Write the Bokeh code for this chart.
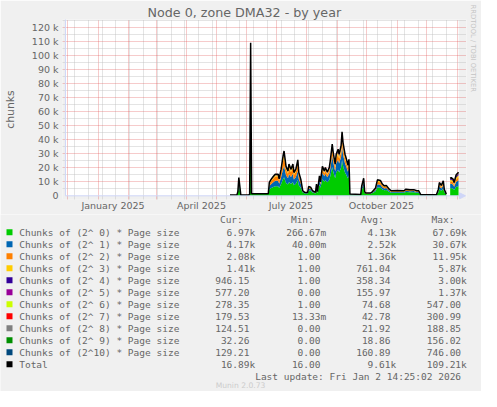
import math
import pandas as pd
from bokeh.plotting import figure
from bokeh.layouts import column
from bokeh.core.properties import value
from bokeh.models import (Range1d, ColumnDataSource, FixedTicker, DatetimeTickFormatter,
                          CustomJSTickFormatter, BoxAnnotation, Arrow, NormalHead, Title)
from bokeh.embed import file_html
from bokeh.resources import INLINE

# ---------------- data (values in thousands of chunks) ----------------
dates = ["2025-05-15","2025-05-22","2025-05-23","2025-05-24","2025-05-26","2025-06-03","2025-06-04","2025-06-05","2025-06-06","2025-06-23",
 "2025-06-24","2025-06-26","2025-06-28","2025-06-30","2025-07-03","2025-07-04","2025-07-06","2025-07-08","2025-07-09","2025-07-11",
 "2025-07-13","2025-07-14","2025-07-16","2025-07-18","2025-07-19","2025-07-21","2025-07-23","2025-07-24","2025-07-26","2025-07-28",
 "2025-07-30","2025-08-02","2025-08-03","2025-08-05","2025-08-07","2025-08-10","2025-08-11","2025-08-12","2025-08-14","2025-08-15",
 "2025-08-17","2025-08-19","2025-08-20","2025-08-22","2025-08-24","2025-08-25","2025-08-27","2025-08-28","2025-08-30","2025-08-31",
 "2025-09-02","2025-09-03","2025-09-05","2025-09-06","2025-09-07","2025-09-09","2025-09-10","2025-09-12","2025-09-13","2025-09-14",
 "2025-09-25","2025-09-26","2025-09-28","2025-09-29","2025-09-30","2025-10-05","2025-10-07","2025-10-09","2025-10-10","2025-10-12",
 "2025-10-15","2025-10-17","2025-10-19","2025-10-21","2025-10-24","2025-10-26","2025-11-01","2025-11-08","2025-11-10","2025-11-14",
 "2025-11-18","2025-11-21","2025-11-23","2025-11-25","2025-12-11","2025-12-13","2025-12-14","2025-12-16","2025-12-18","2025-12-19",
 "2025-12-21","2025-12-23","2025-12-25","2025-12-26","2025-12-28","2025-12-29","2025-12-31","2026-01-02 12:00"]

s0 = [0.40,0.40,2.0,7.0,0.48,0.48,0.8,67.69,1.2,1.2,
      4.6,5.5,6.2,6.8,6.9,5.6,8.4,12.0,13.2,9.2,
      8.0,9.8,8.5,9.9,7.5,8.6,11.2,7.6,5.6,2.4,
      1.7,1.7,3.8,3.6,2.4,1.7,4.8,2.0,8.0,5.7,
      11.8,10.0,11.3,9.6,11.3,14.0,20.5,17.3,12.6,16.6,
      18.6,16.6,20.0,25.6,21.3,16.6,15.4,12.4,14.6,0.95,
      0.72,4.0,7.0,2.0,1.4,1.4,2.0,2.8,3.2,6.0,
      5.8,4.5,3.9,4.1,2.75,2.15,2.25,2.15,2.75,2.5,
      2.55,2.15,2.15,0.64,0.64,2.5,4.6,3.6,5.1,2.5,
      0.95,None,5.4,5.6,5.1,4.1,6.2,6.97]
s1 = [0.05,0.05,0.5,3.0,0.06,0.06,0.1,30.67,0.15,0.15,
      2.4,3.0,3.5,3.9,3.9,3.0,4.8,7.2,8.0,5.4,
      4.5,5.8,4.9,5.9,4.2,4.9,6.6,4.2,3.0,0.6,
      0.35,0.35,1.4,1.3,0.6,0.35,1.8,0.5,3.2,2.2,
      4.6,3.9,4.4,3.7,4.4,5.4,8.0,6.8,5.0,6.5,
      7.3,6.5,7.8,10.0,8.3,6.5,6.0,4.8,5.7,0.12,
      0.09,1.4,2.6,0.5,0.3,0.3,0.5,0.85,1.0,2.2,
      2.1,1.6,1.35,1.4,0.85,0.6,0.65,0.6,0.85,0.8,
      0.8,0.6,0.6,0.08,0.08,1.0,2.2,1.7,2.5,1.0,
      0.12,None,3.0,3.1,2.85,2.3,3.6,4.17]
s2 = [0.025,0.025,0.25,1.6,0.03,0.03,0.05,6.0,0.07,0.07,
      1.6,2.2,2.6,3.0,2.9,2.2,3.6,5.6,6.2,4.0,
      3.3,4.4,3.6,4.3,3.1,3.5,4.9,3.0,2.1,0.35,
      0.2,0.2,0.8,0.75,0.35,0.2,0.95,0.28,1.7,1.2,
      2.4,2.0,2.3,1.9,2.3,2.8,4.2,3.5,2.6,3.4,
      3.8,3.4,4.0,5.1,4.3,3.4,3.1,2.5,2.9,0.06,
      0.045,0.9,1.6,0.28,0.17,0.17,0.28,0.6,0.75,1.8,
      1.75,1.25,1.05,1.1,0.65,0.5,0.53,0.5,0.65,0.6,
      0.62,0.5,0.5,0.04,0.04,0.6,1.2,0.95,1.4,0.6,
      0.06,None,1.6,1.65,1.5,1.2,1.85,2.08]
s3 = [0.01,0.01,0.12,0.7,0.012,0.012,0.02,2.6,0.03,0.03,
      0.55,0.7,0.9,1.05,1.05,0.75,1.3,2.2,2.6,1.5,
      1.3,1.6,1.3,1.6,1.2,1.3,1.9,1.2,0.8,0.15,
      0.08,0.08,0.35,0.32,0.15,0.08,0.42,0.12,0.8,0.55,
      1.1,0.95,1.1,0.9,1.1,1.4,2.0,1.7,1.2,1.6,
      1.8,1.6,1.9,2.4,2.0,1.6,1.45,1.15,1.4,0.03,
      0.02,0.4,0.75,0.12,0.07,0.07,0.12,0.25,0.3,0.8,
      0.78,0.56,0.48,0.5,0.28,0.22,0.23,0.22,0.28,0.26,
      0.27,0.22,0.22,0.018,0.018,0.35,0.8,0.62,0.9,0.35,
      0.03,None,1.1,1.15,1.05,0.82,1.25,1.41]
s4 = [0.005,0.005,0.06,0.35,0.006,0.006,0.01,1.4,0.015,0.015,
      0.2,0.28,0.35,0.4,0.4,0.3,0.6,1.1,1.4,0.6,
      0.48,0.7,0.5,0.65,0.45,0.5,0.8,0.45,0.28,0.06,
      0.04,0.04,0.15,0.14,0.06,0.04,0.2,0.06,0.4,0.25,
      0.65,0.55,0.65,0.55,0.65,0.8,1.2,1.0,0.7,0.9,
      1.0,0.9,1.1,1.4,1.2,0.9,0.85,0.68,0.8,0.015,
      0.01,0.18,0.35,0.06,0.035,0.035,0.06,0.12,0.14,0.35,
      0.33,0.24,0.2,0.2,0.11,0.08,0.09,0.08,0.11,0.1,
      0.1,0.08,0.08,0.009,0.009,0.15,0.45,0.35,0.5,0.15,
      0.015,None,0.7,0.75,0.7,0.55,0.85,0.946]
s5 = [0.003,0.003,0.03,0.15,0.003,0.003,0.005,0.5,0.008,0.008,
      0.08,0.1,0.12,0.13,0.13,0.1,0.18,0.3,0.36,0.18,
      0.13,0.2,0.13,0.17,0.1,0.13,0.2,0.1,0.07,0.02,
      0.015,0.015,0.05,0.05,0.02,0.015,0.07,0.02,0.12,0.06,
      0.25,0.2,0.23,0.2,0.23,0.3,0.5,0.4,0.28,0.38,
      0.42,0.38,0.48,0.6,0.5,0.38,0.34,0.27,0.33,0.008,
      0.005,0.06,0.12,0.02,0.01,0.01,0.02,0.04,0.05,0.13,
      0.12,0.08,0.07,0.07,0.035,0.025,0.03,0.025,0.035,0.03,
      0.03,0.025,0.025,0.004,0.004,0.05,0.15,0.12,0.17,0.05,
      0.008,None,0.4,0.42,0.38,0.3,0.5,0.577]
s6 = [0.002,0.002,0.015,0.07,0.002,0.002,0.003,0.2,0.004,0.004,
      0.03,0.04,0.05,0.05,0.05,0.03,0.06,0.1,0.12,0.06,
      0.05,0.06,0.04,0.05,0.03,0.04,0.06,0.03,0.02,0.01,
      0.005,0.005,0.02,0.015,0.01,0.005,0.03,0.008,0.04,0.02,
      0.1,0.09,0.1,0.08,0.1,0.13,0.22,0.15,0.1,0.15,
      0.18,0.15,0.2,0.28,0.2,0.15,0.13,0.1,0.13,0.004,
      0.003,0.02,0.04,0.008,0.005,0.005,0.008,0.015,0.02,0.05,
      0.05,0.03,0.025,0.025,0.01,0.01,0.01,0.01,0.01,0.01,
      0.01,0.01,0.01,0.002,0.002,0.02,0.05,0.04,0.06,0.02,
      0.004,None,0.15,0.16,0.15,0.12,0.23,0.278]
s7 = [0.001,0.001,0.01,0.04,0.001,0.001,0.002,0.08,0.003,0.003,
      0.02,0.03,0.03,0.03,0.03,0.02,0.03,0.05,0.06,0.03,
      0.02,0.03,0.02,0.02,0.02,0.02,0.02,0.02,0.01,0.005,
      0.004,0.004,0.01,0.01,0.005,0.004,0.01,0.005,0.02,0.01,
      0.04,0.04,0.05,0.04,0.05,0.07,0.12,0.08,0.05,0.08,
      0.09,0.08,0.1,0.15,0.1,0.08,0.06,0.05,0.06,0.003,
      0.002,0.01,0.02,0.005,0.003,0.003,0.005,0.01,0.01,0.03,
      0.03,0.02,0.015,0.015,0.008,0.006,0.006,0.006,0.008,0.007,
      0.007,0.006,0.006,0.001,0.001,0.01,0.02,0.02,0.03,0.01,
      0.003,None,0.08,0.09,0.08,0.06,0.14,0.18]
s8 = [0.001,0.001,0.005,0.02,0.001,0.001,0.001,0.03,0.002,0.002,
      0.01,0.02,0.02,0.02,0.02,0.01,0.02,0.03,0.03,0.02,
      0.01,0.01,0.01,0.01,0.01,0.01,0.01,0.01,0.01,0.003,
      0.002,0.002,0.005,0.005,0.003,0.002,0.005,0.003,0.01,0.005,
      0.02,0.02,0.02,0.02,0.02,0.03,0.06,0.04,0.02,0.03,
      0.04,0.03,0.05,0.07,0.04,0.03,0.03,0.02,0.03,0.002,
      0.001,0.005,0.01,0.003,0.002,0.002,0.003,0.005,0.005,0.01,
      0.01,0.01,0.005,0.005,0.004,0.003,0.003,0.003,0.004,0.003,
      0.003,0.003,0.003,0.001,0.001,0.005,0.01,0.01,0.01,0.005,
      0.002,None,0.04,0.05,0.04,0.03,0.1,0.125]
s9 = [0.001,0.001,0.005,0.02,0.001,0.001,0.001,0.02,0.001,0.001,
      0.01,0.01,0.01,0.01,0.01,0.01,0.01,0.01,0.01,0.01,
      0.01,0.01,0.01,0.01,0.01,0.01,0.01,0.01,0.01,0.002,
      0.002,0.002,0.005,0.005,0.002,0.002,0.005,0.002,0.01,0.005,
      0.02,0.02,0.02,0.02,0.02,0.02,0.04,0.03,0.02,0.02,
      0.03,0.02,0.03,0.04,0.03,0.02,0.02,0.02,0.02,0.002,
      0.001,0.005,0.01,0.002,0.002,0.002,0.002,0.005,0.005,0.01,
      0.01,0.005,0.005,0.005,0.003,0.002,0.002,0.002,0.003,0.002,
      0.002,0.002,0.002,0.001,0.001,0.005,0.005,0.005,0.005,0.005,
      0.002,None,0.01,0.01,0.01,0.01,0.03,0.032]
s10 = [0.002,0.002,0.01,0.04,0.002,0.002,0.003,0.05,0.004,0.004,
       0.02,0.02,0.02,0.02,0.02,0.02,0.02,0.02,0.02,0.02,
       0.02,0.02,0.02,0.02,0.02,0.02,0.02,0.02,0.02,0.01,
       0.01,0.01,0.01,0.01,0.01,0.01,0.01,0.005,0.02,0.01,
       0.05,0.04,0.04,0.04,0.04,0.05,0.08,0.06,0.04,0.05,
       0.06,0.05,0.06,0.08,0.06,0.05,0.04,0.04,0.04,0.005,
       0.003,0.01,0.02,0.005,0.005,0.005,0.005,0.01,0.01,0.02,
       0.02,0.01,0.01,0.01,0.01,0.01,0.01,0.01,0.01,0.01,
       0.01,0.01,0.01,0.002,0.002,0.01,0.01,0.01,0.01,0.01,
       0.005,None,0.04,0.05,0.04,0.03,0.1,0.129]

series = [s0, s1, s2, s3, s4, s5, s6, s7, s8, s9, s10]
colors = ["#00CC00", "#0066B3", "#FF8000", "#FFCC00", "#330099", "#990099",
          "#CCFF00", "#FF0000", "#808080", "#008F00", "#00487D"]
legend_labels = ["Chunks of (2^ 0) * Page size", "Chunks of (2^ 1) * Page size",
                 "Chunks of (2^ 2) * Page size", "Chunks of (2^ 3) * Page size",
                 "Chunks of (2^ 4) * Page size", "Chunks of (2^ 5) * Page size",
                 "Chunks of (2^ 6) * Page size", "Chunks of (2^ 7) * Page size",
                 "Chunks of (2^ 8) * Page size", "Chunks of (2^ 9) * Page size",
                 "Chunks of (2^10) * Page size", "Total"]
cur_vals = ["6.97k", "4.17k", "2.08k", "1.41k", "946.15", "577.20", "278.35", "179.53", "124.51", "32.26", "129.21", "16.89k"]
min_vals = ["266.67m", "40.00m", "1.00", "1.00", "1.00", "0.00", "1.00", "13.33m", "0.00", "0.00", "0.00", "16.00"]
avg_vals = ["4.13k", "2.52k", "1.36k", "761.04", "358.34", "155.97", "74.68", "42.78", "21.92", "18.86", "160.89", "9.61k"]
max_vals = ["67.69k", "30.67k", "11.95k", "5.87k", "3.00k", "1.37k", "547.00", "300.99", "188.85", "156.02", "746.00", "109.21k"]
col_heads = ["Cur:", "Min:", "Avg:", "Max:"]
y_tick_values = [0, 10000, 20000, 30000, 40000, 50000, 60000, 70000, 80000, 90000, 100000, 110000, 120000]
x_label_dates = ["2025-01-16", "2025-04-16", "2025-07-16", "2025-10-16"]
range_end = "2026-01-02 14:25:02"
title_text = "Node 0, zone DMA32 - by year"
watermark = "RRDTOOL / TOBI OETIKER"
last_update = "Last update: Fri Jan  2 14:25:02 2026"
version = "Munin 2.0.73"

# ---------------- helpers ----------------
def ms(s):
    return pd.Timestamp(s).timestamp() * 1000.0

DAY = 86400000.0
t1 = ms(range_end)
t0 = t1 - 400 * DAY
YTOP = 125714

TEXT = "#666666"
AXIS = "#CFD6F8"
BG = "#F0F0F0"
W = 481
H_MAIN = 214
H_LEG = 177

# ---------------- main chart ----------------
p_main = figure(width=W, height=H_MAIN, output_backend="svg", toolbar_location=None,
                x_axis_type="datetime", title=title_text,
                x_range=Range1d(t0 - 3 * DAY, t1 + 8 * DAY), y_range=Range1d(-2643, 125929),
                min_border_left=55, min_border_right=15, min_border_top=19, min_border_bottom=15)
p_main.frame_align = False
p_main.border_fill_color = BG
p_main.background_fill_color = BG
p_main.outline_line_color = None

p_main.title.align = "left"
p_main.title.offset = 85
p_main.title.standoff = 0
p_main.title.text_font = "DejaVu Sans"
p_main.title.text_font_size = "12.7px"
p_main.title.text_font_style = "normal"
p_main.title.text_color = TEXT

p_main.add_layout(Title(text=watermark, align="left", offset=-15, standoff=4,
                        text_font="DejaVu Sans", text_font_size="6.8px",
                        text_font_style="normal", text_color="#C4C4C4"), "right")

# white canvas behind the grid
p_main.add_layout(BoxAnnotation(left=t0, right=t1, bottom=0, top=YTOP, fill_color="#FFFFFF",
                                fill_alpha=1.0, line_color=None, level="image"))

month_starts = [ms(d) for d in pd.date_range("2024-12-01", "2026-01-01", freq="MS")]
biweekly = [ms(d) for d in pd.date_range("2024-12-08", "2026-01-02", freq="14D")]
xg = p_main.xgrid[0]
xg.ticker = FixedTicker(ticks=month_starts, minor_ticks=biweekly)
yg = p_main.ygrid[0]
yg.ticker = FixedTicker(ticks=y_tick_values[1:], minor_ticks=[v + 5000 for v in y_tick_values])
for g in (xg, yg):
    g.grid_line_color = "#E05050"
    g.grid_line_alpha = 0.6
    g.grid_line_dash = "1 1"
    g.minor_grid_line_color = "#BBBBBB"
    g.minor_grid_line_alpha = 0.8
    g.minor_grid_line_dash = "1 1"

for ax in (p_main.xaxis[0], p_main.yaxis[0]):
    ax.axis_line_color = None
    ax.major_tick_line_color = None
    ax.minor_tick_line_color = None
    ax.major_tick_out = 0
    ax.major_label_text_color = TEXT
    ax.major_label_text_font = "DejaVu Sans"
    ax.major_label_text_font_size = "9.5px"
p_main.xaxis[0].ticker = FixedTicker(ticks=[ms(d) for d in x_label_dates])
fmt = "%B %Y"
p_main.xaxis[0].formatter = DatetimeTickFormatter(microseconds=fmt, milliseconds=fmt, seconds=fmt, minsec=fmt,
                                                  minutes=fmt, hourmin=fmt, hours=fmt, days=fmt,
                                                  months=fmt, years=fmt)
p_main.xaxis[0].major_label_standoff = 0
p_main.yaxis[0].ticker = FixedTicker(ticks=y_tick_values)
p_main.yaxis[0].formatter = CustomJSTickFormatter(code="return tick == 0 ? '0' : (tick/1000).toFixed(0) + ' k';")
p_main.yaxis[0].major_label_standoff = 4
p_main.yaxis[0].axis_label = "chunks"
p_main.yaxis[0].axis_label_text_font = "DejaVu Sans"
p_main.yaxis[0].axis_label_text_font_size = "10.8px"
p_main.yaxis[0].axis_label_text_font_style = "normal"
p_main.yaxis[0].axis_label_text_color = TEXT
p_main.yaxis[0].axis_label_standoff = 12

names = [f"s{i}" for i in range(11)]
df = pd.DataFrame({"x": [ms(d) for d in dates]})
for n, arr in zip(names, series):
    df[n] = pd.to_numeric(pd.Series(arr, dtype="object"), errors="coerce") * 1000.0
df["total"] = df[names].sum(axis=1, min_count=1)
valid = df["s0"].notna()
seg = (~valid).cumsum()
for _, g in df[valid].groupby(seg[valid]):
    src = ColumnDataSource(g.reset_index(drop=True))
    p_main.varea_stack(stackers=names, x="x", color=colors, source=src)
    p_main.line("x", "total", source=src, color="#000000", line_width=1.5)

# axis lines with arrow (rrdtool style)
p_main.add_layout(Arrow(end=None, x_start=t0, y_start=0, x_end=t0, y_end=YTOP + 5000,
                        line_color=AXIS, line_width=1))
p_main.add_layout(Arrow(end=NormalHead(size=6, fill_color=AXIS, line_color=AXIS),
                        x_start=t0, y_start=0, x_end=t1 + 7 * DAY, y_end=0,
                        line_color=AXIS, line_width=1))

# ---------------- legend panel (pixel coordinates) ----------------
p_leg = figure(width=W, height=H_LEG, output_backend="svg", toolbar_location=None,
               x_range=Range1d(0, W), y_range=Range1d(H_LEG, 0),
               x_axis_location=None, y_axis_location=None,
               min_border_left=0, min_border_right=0, min_border_top=0, min_border_bottom=0)
p_leg.frame_align = False
p_leg.border_fill_color = BG
p_leg.background_fill_color = BG
p_leg.outline_line_color = None
p_leg.grid.visible = False

MONO = "DejaVu Sans Mono"
CW = 5.72
ROW0 = 17.7       # first legend row, relative to the legend panel top
ROWH = 12.0
HEAD_Y = 5.3
col_right = [254.7, 325.7, 395.7, 466.3]
head_right = [242.3, 313.3, 383.3, 454.0]

row_y = [ROW0 + ROWH * i for i in range(len(legend_labels))]
p_leg.rect(x=[9] * len(row_y), y=row_y, width=6, height=6,
           fill_color=colors + ["#000000"], line_color=None)
p_leg.text(x=[18.7] * len(row_y), y=row_y, text=legend_labels, text_font=value(MONO),
           text_font_size=value("9.5px"), text_color=TEXT, text_align="left", text_baseline="middle")
p_leg.text(x=head_right, y=[HEAD_Y] * 4, text=col_heads, text_font=value(MONO),
           text_font_size=value("9.5px"), text_color=TEXT, text_align="right", text_baseline="middle")
vx, vy, vt = [], [], []
for cr, vals in zip(col_right, (cur_vals, min_vals, avg_vals, max_vals)):
    for i, v in enumerate(vals):
        vx.append(cr if v[-1].isalpha() else cr - CW)
        vy.append(row_y[i])
        vt.append(v)
p_leg.text(x=vx, y=vy, text=vt, text_font=value(MONO), text_font_size=value("9.5px"),
           text_color=TEXT, text_align="right", text_baseline="middle")
p_leg.text(x=[466.3], y=[ROW0 + ROWH * 12], text=[last_update], text_font=value(MONO),
           text_font_size=value("9.5px"), text_color=TEXT, text_align="right", text_baseline="middle")
p_leg.text(x=[240], y=[171], text=[version], text_font=value("DejaVu Sans"),
           text_font_size=value("7.6px"), text_color="#CCCCCC", text_align="center", text_baseline="middle")

p = column(p_main, p_leg, spacing=0)
open("out.html", "w").write(file_html(p, INLINE))
